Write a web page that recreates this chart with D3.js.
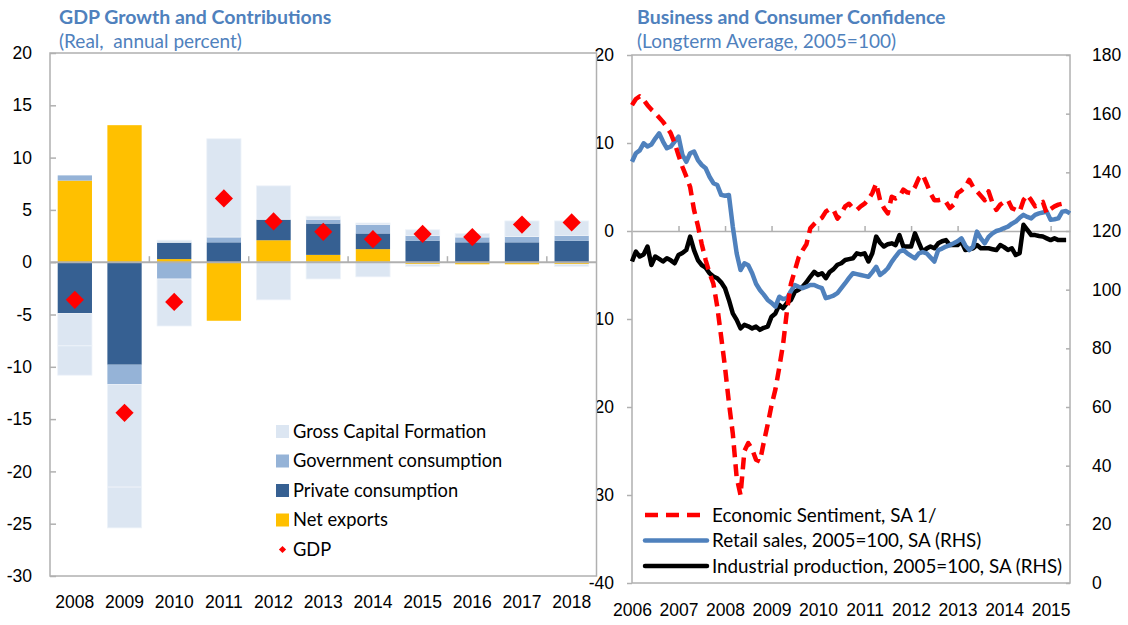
<!DOCTYPE html>
<html>
<head>
<meta charset="utf-8">
<script src="https://cdn.jsdelivr.net/npm/d3@7"></script>
<style>
  body { margin: 0; background: #fff; }
  svg { display: block; font-family: Lato, 'Open Sans', sans-serif; }
  .axis text { fill: #000; font-size: 17.5px; }
  .axis line { stroke: #b0b0b0; stroke-width: 1.5; }
</style>
</head>
<body>
<div id="chart"></div>
<script>
'use strict';

// left panel: contributions to growth (percentage points)
var years = ['2008', '2009', '2010', '2011', '2012', '2013', '2014', '2015', '2016', '2017', '2018'];
var netExports = [7.8, 13.1, 0.3, -5.6, 2.1, 0.7, 1.25, -0.2, -0.2, -0.2, -0.2];
var privateCons = [-4.9, -9.8, 1.6, 1.9, 2.0, 3.0, 1.5, 2.05, 1.9, 1.9, 2.05];
var govCons = [0.5, -1.9, -1.6, 0.5, 0.0, 0.4, 0.85, 0.5, 0.5, 0.55, 0.5];
var grossCapital = [-3.1, -9.8, -4.5, 9.4, 3.2, 0.3, 0.15, 0.55, 0.35, 1.5, 1.4];
var otherCapital = [-2.8, -3.9, 0.2, 0, -3.6, -1.6, -1.4, -0.2, 0, 0, -0.2];
var gdp = [-3.6, -14.4, -3.8, 6.1, 3.9, 2.9, 2.2, 2.7, 2.4, 3.6, 3.8];
var leftTicks = [-30, -25, -20, -15, -10, -5, 0, 5, 10, 15, 20];

// right panel: monthly, Jan 2006 onwards
var sentiment = [14.3, 15.0, 15.3, 14.9, 14.3, 13.8, 13.4, 12.9, 12.4, 11.8, 11.1, 10.0,
    8.6, 7.3, 6.2, 5.0, 2.4, 0.6, -1.5, -3.3, -4.8, -6.0, -8.6, -12.0,
    -15.5, -19.5, -23.0, -28.0, -30.0, -25.0, -24.1, -24.8, -26.0, -26.2, -24.0, -22.0,
    -19.8, -18.0, -15.5, -12.8, -9.0, -6.0, -4.5, -3.0, -2.2, -1.5, 0.3, 0.8,
    1.2, 1.5, 2.2, 2.5, 2.4, 1.4, 2.0, 2.8, 3.1, 2.6, 2.4, 2.8,
    3.1, 3.6, 4.3, 5.4, 3.5, 2.6, 2.0, 3.9, 3.7, 3.9, 4.7, 4.4,
    4.3, 5.0, 6.0, 6.4, 5.4, 4.3, 3.5, 3.5, 3.6, 3.3, 2.6, 3.0,
    4.3, 4.6, 5.0, 5.8, 5.0, 4.5, 4.0, 3.5, 4.5, 3.2, 2.4, 3.0,
    3.3, 3.5, 2.6, 2.4, 2.2, 3.5, 4.1, 3.5, 2.8, 3.1, 3.3, 2.0,
    2.5, 2.8, 3.0, 3.1];
var retail = [143.6, 146.5, 147.5, 149.9, 148.8, 149.5, 151.5, 153.3, 150.5, 148.2, 148.8, 150.5,
    152.2, 146.0, 143.6, 146.5, 147.1, 144.2, 142.5, 141.4, 138.5, 136.3, 135.7, 132.3,
    132.0, 132.3, 121.5, 112.4, 106.7, 109.0, 108.3, 105.6, 102.0, 99.9, 98.3, 96.5,
    95.5, 94.2, 97.6, 96.8, 97.1, 99.5, 101.6, 101.0, 100.5, 101.0, 101.6, 101.6,
    101.0, 100.5, 97.1, 97.5, 98.0, 98.8, 100.5, 102.2, 104.0, 105.6, 105.3, 105.0,
    104.7, 104.4, 106.0, 107.8, 105.0, 106.0, 107.3, 109.5, 111.3, 113.0, 113.5, 112.4,
    111.5, 110.7, 112.4, 112.8, 112.4, 111.0, 109.6, 113.5, 114.0, 114.7, 115.2, 115.8,
    116.5, 117.5, 115.0, 113.5, 114.7, 119.8, 117.5, 115.8, 118.0, 119.2, 120.0, 120.4,
    121.0, 121.5, 122.5, 123.2, 124.5, 125.5, 124.8, 124.3, 125.5, 126.0, 126.3, 126.6,
    123.8, 124.0, 124.3, 126.6, 126.8, 126.0];
var industry = [109.6, 113.0, 111.3, 112.0, 114.7, 108.4, 111.3, 110.5, 109.6, 110.7, 110.0, 109.0,
    111.8, 112.5, 113.5, 118.1, 113.5, 110.1, 108.4, 107.5, 105.6, 104.5, 103.9, 102.5,
    100.5, 96.5, 91.9, 89.7, 86.8, 88.0, 87.5, 86.8, 87.4, 86.3, 87.0, 87.4,
    90.8, 91.9, 94.8, 93.7, 95.5, 96.5, 99.3, 100.0, 101.0, 102.5, 104.4, 106.1,
    105.0, 105.6, 103.9, 106.0, 107.0, 108.5, 109.0, 110.1, 110.4, 110.7, 112.4, 112.0,
    112.4, 109.6, 112.4, 118.1, 116.0, 114.7, 115.5, 115.8, 115.2, 118.6, 114.7, 114.7,
    114.7, 119.2, 116.0, 113.0, 114.0, 114.7, 114.1, 115.8, 116.5, 116.9, 115.2, 115.2,
    115.2, 116.4, 113.5, 113.8, 114.1, 115.2, 114.1, 114.1, 114.1, 113.8, 113.5, 115.2,
    114.5, 113.5, 114.1, 111.8, 112.4, 122.1, 120.4, 118.6, 118.6, 118.3, 118.1, 117.5,
    116.9, 117.5, 116.9, 116.9, 116.9];
var yearLabels = ['2006', '2007', '2008', '2009', '2010', '2011', '2012', '2013', '2014', '2015'];
var lhsTicks = [-40, -30, -20, -10, 0, 10, 20];
var rhsTicks = [0, 20, 40, 60, 80, 100, 120, 140, 160, 180];

$init();

function $init() {
    var width = 1128,
        height = 625,
        titleColor = '#4f81bd',
        gridColor = '#b0b0b0',
        plain = function (d) { return String(d); },
        svg = d3.select('#chart').append('svg').attr('width', width).attr('height', height);

    // ---------- right panel (drawn first, the left panel covers part of its labels)
    var xR = d3.scaleLinear().domain([0, 113]).range([632, 1070]),
        yL = d3.scaleLinear().domain([-40, 20]).range([583, 55]),
        yR = d3.scaleLinear().domain([0, 180]).range([583, 55]);

    svg.append('rect').attr('x', xR(0)).attr('y', yR(180)).attr('width', xR(113) - xR(0)).attr('height', yR(0) - yR(180))
        .attr('fill', 'none').attr('stroke', gridColor).attr('stroke-width', 1.5);

    svg.append('g').attr('class', 'axis').attr('transform', 'translate(' + xR(0) + ',0)')
        .call(d3.axisLeft(yL).tickValues(lhsTicks).tickFormat(plain).tickSize(5).tickPadding(13).tickSizeOuter(0))
        .call(function (g) { g.select('.domain').remove(); });

    svg.append('g').attr('class', 'axis').attr('transform', 'translate(' + xR(113) + ',0)')
        .call(d3.axisRight(yR).tickValues(rhsTicks).tickFormat(plain).tickSize(-4).tickPadding(22).tickSizeOuter(0))
        .call(function (g) {
            g.select('.domain').remove();
            g.selectAll('text').attr('text-anchor', 'start');
        });

    var yearIdx = yearLabels.map(function (d, i) { return i * 12; });

    // zero line with year ticks
    svg.append('g').attr('class', 'axis').attr('transform', 'translate(0,' + yL(0) + ')')
        .call(d3.axisBottom(xR).tickValues(yearIdx.slice(1)).tickFormat('').tickSize(-5).tickSizeOuter(0))
        .call(function (g) { g.select('.domain').attr('stroke', gridColor).attr('stroke-width', 1.5); });

    svg.append('g').attr('class', 'axis').attr('transform', 'translate(0,' + yR(0) + ')')
        .call(d3.axisBottom(xR).tickValues(yearIdx).tickFormat(function (d, i) { return yearLabels[i]; }).tickSize(0).tickPadding(21))
        .call(function (g) { g.select('.domain').remove(); });

    var lineL = d3.line().x(function (d, i) { return xR(i); }).y(function (d) { return yL(d); }),
        lineR = d3.line().x(function (d, i) { return xR(i); }).y(function (d) { return yR(d); });

    var rightSeries = [
        { name: 'Economic Sentiment, SA 1/', path: lineL(sentiment), color: '#ff0000', dash: '12,7' },
        { name: 'Retail sales, 2005=100, SA (RHS)', path: lineR(retail), color: '#4f81bd', dash: null },
        { name: 'Industrial production, 2005=100, SA (RHS)', path: lineR(industry), color: '#000000', dash: null }
    ];

    svg.append('g').selectAll('path').data(rightSeries.slice().reverse()).enter().append('path')
        .attr('d', function (d) { return d.path; })
        .attr('fill', 'none')
        .attr('stroke', function (d) { return d.color; })
        .attr('stroke-width', 4.5)
        .attr('stroke-linejoin', 'round')
        .attr('stroke-dasharray', function (d) { return d.dash; });

    var legR = svg.append('g').selectAll('g').data(rightSeries).enter().append('g')
        .attr('transform', function (d, i) { return 'translate(645,' + (515 + i * 25.5) + ')'; });
    legR.append('line').attr('x1', 0).attr('x2', 62)
        .attr('stroke', function (d) { return d.color; })
        .attr('stroke-width', 4.5)
        .attr('stroke-linecap', function (d) { return d.dash ? 'butt' : 'round'; })
        .attr('stroke-dasharray', function (d) { return d.dash ? '13,8' : null; });
    legR.append('text').attr('x', 67).attr('dy', '0.35em').style('font-size', '18.8px').text(function (d) { return d.name; });

    // ---------- left panel
    var xB = d3.scaleBand().domain(years).range([50, 596.5]).paddingInner(0.31).paddingOuter(0.155),
        yB = d3.scaleLinear().domain([-30, 20]).range([576, 53]);

    svg.append('rect').attr('x', 50).attr('y', yB(20)).attr('width', 546.5).attr('height', yB(-30) - yB(20))
        .attr('fill', '#fff').attr('stroke', gridColor).attr('stroke-width', 1.5);

    svg.append('g').attr('class', 'axis').attr('transform', 'translate(50,0)')
        .call(d3.axisLeft(yB).tickValues(leftTicks).tickFormat(plain).tickSize(-6).tickPadding(18).tickSizeOuter(0))
        .call(function (g) { g.select('.domain').remove(); });

    svg.append('g').attr('class', 'axis').attr('transform', 'translate(0,' + yB(-30) + ')')
        .call(d3.axisBottom(xB).tickSize(0).tickPadding(20))
        .call(function (g) { g.select('.domain').remove(); });

    var keys = ['netExports', 'privateCons', 'govCons', 'grossCapital', 'otherCapital'],
        colors = { netExports: '#ffc000', privateCons: '#366092', govCons: '#95b3d7', grossCapital: '#dce6f2', otherCapital: '#dce6f2' },
        table = years.map(function (y, i) {
            return { year: y, netExports: netExports[i], privateCons: privateCons[i], govCons: govCons[i],
                grossCapital: grossCapital[i], otherCapital: otherCapital[i] };
        }),
        stacked = d3.stack().keys(keys).offset(d3.stackOffsetDiverging)(table);

    svg.append('g').selectAll('g').data(stacked).enter().append('g')
        .attr('fill', function (d) { return colors[d.key]; })
        .attr('stroke', function (d) { return d.key === 'grossCapital' || d.key === 'otherCapital' ? '#eef3f9' : 'none'; })
        .attr('stroke-width', 0.8)
        .selectAll('rect').data(function (d) { return d; }).enter().append('rect')
        .attr('x', function (d) { return xB(d.data.year); })
        .attr('width', xB.bandwidth())
        .attr('y', function (d) { return yB(Math.max(d[0], d[1])); })
        .attr('height', function (d) { return Math.abs(yB(d[0]) - yB(d[1])); });

    // zero line with ticks every second category boundary
    var boundaries = d3.range(2, years.length, 2).map(function (k) { return 50 + k * xB.step(); });
    svg.append('line').attr('x1', 50).attr('x2', 596.5).attr('y1', yB(0)).attr('y2', yB(0))
        .attr('stroke', gridColor).attr('stroke-width', 2);
    svg.append('g').selectAll('line').data(boundaries).enter().append('line')
        .attr('x1', function (d) { return d; }).attr('x2', function (d) { return d; })
        .attr('y1', yB(0)).attr('y2', yB(0) - 6)
        .attr('stroke', gridColor).attr('stroke-width', 1.5);

    var diamond = d3.symbol(d3.symbolSquare, 165);
    svg.append('g').selectAll('path').data(gdp).enter().append('path')
        .attr('d', diamond)
        .attr('fill', '#ff0000')
        .attr('transform', function (d, i) {
            return 'translate(' + (xB(years[i]) + xB.bandwidth() / 2) + ',' + yB(d) + ') rotate(45)';
        });

    var legL = [
        { name: 'Gross Capital Formation', color: colors.grossCapital },
        { name: 'Government consumption', color: colors.govCons },
        { name: 'Private consumption', color: colors.privateCons },
        { name: 'Net exports', color: colors.netExports },
        { name: 'GDP', color: '#ff0000', marker: true }
    ];
    var lg = svg.append('g').selectAll('g').data(legL).enter().append('g')
        .attr('transform', function (d, i) { return 'translate(276,' + (431.5 + i * 29.5) + ')'; });
    lg.filter(function (d) { return !d.marker; }).append('rect')
        .attr('y', -6.5).attr('width', 13).attr('height', 13)
        .attr('fill', function (d) { return d.color; });
    lg.filter(function (d) { return d.marker; }).append('path')
        .attr('d', d3.symbol(d3.symbolSquare, 26))
        .attr('transform', 'translate(6.5,0) rotate(45)')
        .attr('fill', '#ff0000');
    lg.append('text').attr('x', 17).attr('dy', '0.35em').style('font-size', '18.3px').text(function (d) { return d.name; });

    // ---------- titles
    var titles = [
        { x: 59, title: 'GDP Growth and Contributions', sub: '(Real,\u00a0 annual percent)' },
        { x: 637, title: 'Business and Consumer Confidence', sub: '(Longterm Average, 2005=100)' }
    ];
    var t = svg.append('g').selectAll('g').data(titles).enter().append('g');
    t.append('text').attr('x', function (d) { return d.x; }).attr('y', 24)
        .attr('fill', titleColor).style('font-size', '19.5px').style('font-weight', 'bold')
        .text(function (d) { return d.title; });
    t.append('text').attr('x', function (d) { return d.x; }).attr('y', 48)
        .attr('fill', titleColor).style('font-size', '19px')
        .text(function (d) { return d.sub; });
}
</script>
</body>
</html>
